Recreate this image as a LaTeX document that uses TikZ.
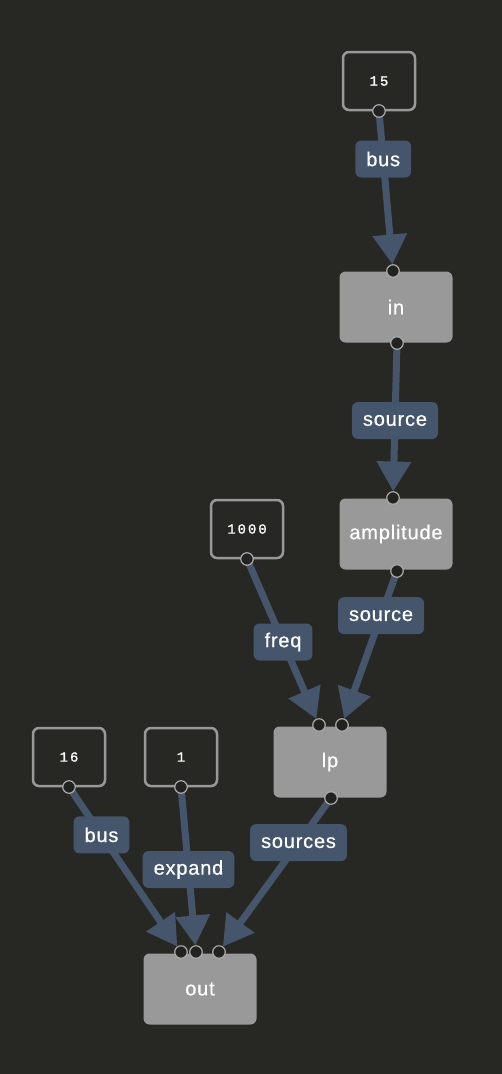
\documentclass[tikz,border=0pt]{standalone}
\usepackage{fontspec}
\setmainfont{Liberation Sans}[LetterSpace=4,FakeBold=0.6]
\newfontfamily\numfont{Liberation Mono}[LetterSpace=14,FakeBold=1.2]
\usetikzlibrary{arrows.meta,positioning}
\definecolor{bg}{HTML}{272723}
\definecolor{portfill}{HTML}{222220}
\definecolor{boxgray}{HTML}{999999}
\definecolor{wire}{HTML}{45556B}
\newcommand{\prt}[1]{\node[portdot] at (#1) {};}

\begin{document}
\begin{tikzpicture}[x=1pt,y=-1pt,
	opbox/.style={fill=boxgray,rounded corners=6pt,minimum width=113pt,minimum height=71pt,text=white,font=\fontsize{20}{24}\selectfont},
	constbox/.style={draw=boxgray,line width=2.5pt,fill=bg,rounded corners=6pt,minimum width=72pt,minimum height=58pt,text=white,font=\numfont\fontsize{14}{16}\selectfont},
	portdot/.style={circle,draw=boxgray!85,fill=portfill,line width=1.2pt,inner sep=0pt,minimum size=12.5pt},
	wirelabel/.style={fill=wire,rounded corners=6pt,text=white,font=\fontsize{20}{24}\selectfont,inner xsep=11pt,inner ysep=0pt,minimum height=37pt},
	link/.style={draw=wire,line width=7pt,-{Triangle[length=30pt,width=33pt]},shorten >=6.5pt}]
	%	\draw[help lines] (0,0) grid[step=50] (502,1074);
	\fill[bg] (0,0) rectangle (502,1074);
	\useasboundingbox (0,0) rectangle (502,1074);

	% boxes
	\node[constbox] (c15) at (379,81) {15};
	\node[opbox] (in) at (396,307) {in};
	\node[opbox] (amp) at (396,534) {amplitude};
	\node[constbox] (c1000) at (247,529) {1000};
	\node[opbox] (lp) at (330,762) {lp};
	\node[constbox] (c16) at (69,757) {16};
	\node[constbox] (c1) at (181,757) {1};
	\node[opbox] (out) at (200,989) {out};

	% ports
	\coordinate (c15o) at (379,111);
	\coordinate (ini) at (393,271);
	\coordinate (ino) at (397,343);
	\coordinate (ampi) at (393,498);
	\coordinate (ampo) at (397,571);
	\coordinate (c1000o) at (247,559);
	\coordinate (lpa) at (319,725);
	\coordinate (lpb) at (342,725);
	\coordinate (lpo) at (331,798);
	\coordinate (c16o) at (69,787);
	\coordinate (c1o) at (181,787);
	\coordinate (outa) at (181,952);
	\coordinate (outb) at (196,952);
	\coordinate (outc) at (219,952);

	% links
	\draw[link] (c15o) -- node[wirelabel,pos=.3]{bus} (ini);
	\draw[link] (ino) -- node[wirelabel,pos=.5]{source} (ampi);
	\draw[link] (c1000o) -- node[wirelabel,pos=.5]{freq} (lpa);
	\draw[link] (ampo) -- node[wirelabel,pos=.29]{source} (lpb);
	\draw[link] (c16o) -- node[wirelabel,pos=.29]{bus} (outa);
	\draw[link] (c1o) -- node[wirelabel,pos=.5]{expand} (outb);
	\draw[link] (lpo) -- node[wirelabel,pos=.29]{sources} (outc);

	\prt{c15o}\prt{ini}\prt{ino}\prt{ampi}\prt{ampo}\prt{c1000o}\prt{lpa}
	\prt{lpb}\prt{lpo}\prt{c16o}\prt{c1o}\prt{outa}\prt{outb}\prt{outc}
\end{tikzpicture}
\end{document}
